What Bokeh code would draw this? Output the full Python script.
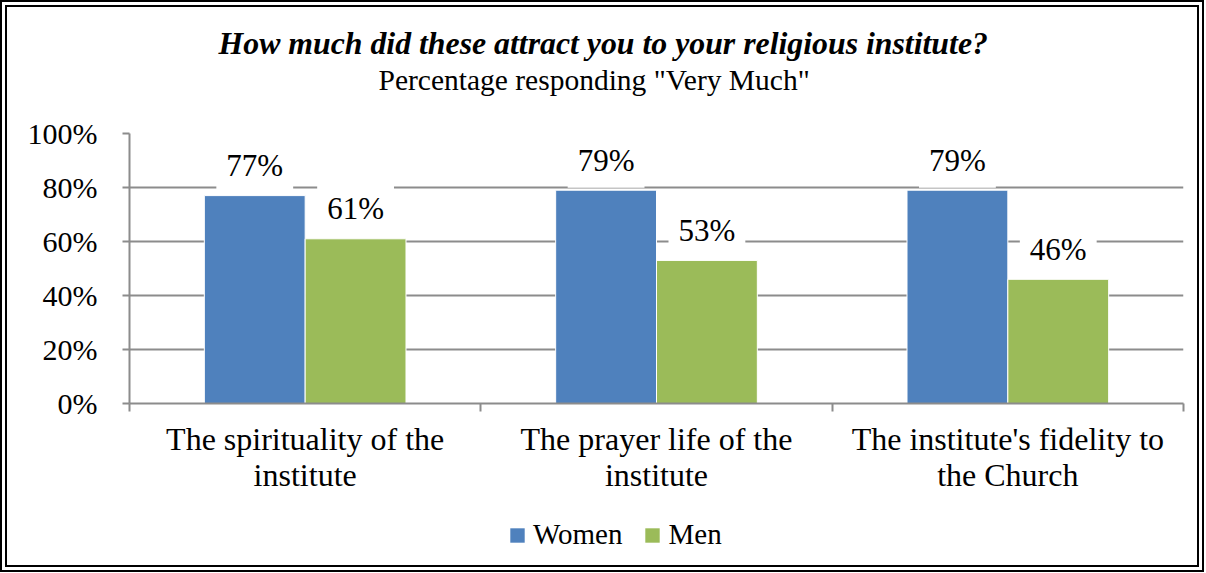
from bokeh.plotting import figure
from bokeh.layouts import column
from bokeh.models import (Range1d, FixedTicker, Label, Legend, LegendItem,
                          Title)
from bokeh.embed import file_html
from bokeh.resources import INLINE

categories = ["The spirituality of the\ninstitute",
              "The prayer life of the\ninstitute",
              "The institute's fidelity to\nthe Church"]
women = [77, 79, 79]
men = [61, 53, 46]
y_ticks = [0, 20, 40, 60, 80, 100]
series_names = ["Women", "Men"]
colors = ["#4F81BD", "#9BBB59"]
title_text = "How much did these attract you to your religious institute?"
subtitle_text = 'Percentage responding "Very Much"'

FONT = "Liberation Serif"
GRID = "#8C8C8C"
W = 1190          # figure width
H1, H2 = 495, 63  # chart height, legend strip height
B = 7             # css border width
BORDER = f"{B}px double black"
MB_LEFT, MB_RIGHT = 122, 28

p = figure(width=W, height=H1, x_range=Range1d(0, 3), y_range=Range1d(0, 100),
           output_backend="svg", toolbar_location=None,
           min_border_left=MB_LEFT, min_border_right=MB_RIGHT,
           min_border_top=126, min_border_bottom=106)
p.outline_line_color = None
p.background_fill_color = "white"
p.border_fill_color = "white"
p.styles = {"border-top": BORDER, "border-left": BORDER,
            "border-right": BORDER, "box-sizing": "content-box"}

# titles (last added sits on top)
p.add_layout(Title(text=" ", text_font_size="14px", standoff=20), "above")
p.add_layout(Title(text=subtitle_text, align="left", offset=249,
                   text_font=FONT, text_font_size="29.5px", standoff=0,
                   text_font_style="normal", text_color="black"), "above")
p.add_layout(Title(text=title_text, align="left", offset=89, standoff=1,
                   text_font=FONT, text_font_size="31.8px",
                   text_font_style="bold italic", text_color="black"), "above")

n = len(categories)
centers = [i + 0.5 for i in range(n)]
bw = 0.287
xw = [c - bw / 2 for c in centers]
xm = [c + bw / 2 for c in centers]

p.vbar(x=xw, top=women, width=bw, bottom=0, fill_color=colors[0],
       line_color="white", line_width=1)
p.vbar(x=xm, top=men, width=bw, bottom=0, fill_color=colors[1],
       line_color="white", line_width=1)

# y axis
yax = p.yaxis[0]
yax.ticker = FixedTicker(ticks=y_ticks)
yax.major_label_overrides = {t: f"{t}%" for t in y_ticks}
yax.major_label_text_font = FONT
yax.major_label_text_font_size = "30px"
yax.major_label_text_color = "black"
yax.axis_line_color = GRID
yax.axis_line_width = 2
yax.major_tick_line_color = GRID
yax.major_tick_line_width = 2
yax.major_tick_out = 7
yax.major_tick_in = 0
yax.minor_tick_line_color = None
yax.major_label_standoff = 25

# x axis: labels at centres, ticks at group boundaries
xax = p.xaxis[0]
xax.ticker = FixedTicker(ticks=centers, minor_ticks=list(range(n + 1)))
xax.major_label_overrides = {c: lab for c, lab in zip(centers, categories)}
xax.major_label_text_font = FONT
xax.major_label_text_font_size = "32px"
xax.major_label_text_color = "black"
xax.major_label_text_line_height = 1.0
xax.major_tick_line_color = None
xax.major_tick_out = 0
xax.major_tick_in = 0
xax.minor_tick_line_color = GRID
xax.minor_tick_line_width = 2
xax.minor_tick_out = 8
xax.minor_tick_in = 0
xax.axis_line_color = GRID
xax.axis_line_width = 2
xax.major_label_standoff = 9

p.xgrid.visible = False
p.ygrid.ticker = FixedTicker(ticks=y_ticks)
p.ygrid.grid_line_color = GRID
p.ygrid.grid_line_width = 2

# data labels
for xs, vals in ((xw, women), (xm, men)):
    for x, v in zip(xs, vals):
        p.add_layout(Label(x=x, y=v, text=f"{v}%", y_offset=30,
                           text_align="center", text_baseline="middle",
                           text_font=FONT, text_font_size="31px",
                           text_color="black",
                           background_fill_color="white",
                           padding=10))

# legend strip (own small figure so it can sit below the axis labels)
q = figure(width=W, height=H2, x_range=Range1d(0, 3), y_range=Range1d(0, 100),
           output_backend="svg", toolbar_location=None,
           x_axis_location=None, y_axis_location=None,
           min_border_left=MB_LEFT, min_border_right=MB_RIGHT,
           min_border_top=0, min_border_bottom=0)
q.outline_line_color = None
q.xgrid.visible = False
q.ygrid.visible = False
q.border_fill_color = "white"
q.styles = {"border-bottom": BORDER, "border-left": BORDER,
            "border-right": BORDER, "box-sizing": "content-box"}

lw = q.vbar(x=xw, top=women, width=bw, fill_color=colors[0], line_color=None,
            visible=False)
lm = q.vbar(x=xm, top=men, width=bw, fill_color=colors[1], line_color=None,
            visible=False)

legend = Legend(items=[LegendItem(label=series_names[0], renderers=[lw]),
                       LegendItem(label=series_names[1], renderers=[lm])],
                orientation="horizontal", location=(379, 21),
                label_text_font=FONT, label_text_font_size="29px",
                label_text_color="black",
                glyph_width=18, glyph_height=18, label_standoff=7,
                spacing=21, padding=0, margin=0,
                border_line_color=None, background_fill_alpha=0)
q.add_layout(legend, "center")

layout = column(p, q, spacing=0)
open("out.html", "w").write(file_html(layout, INLINE))
